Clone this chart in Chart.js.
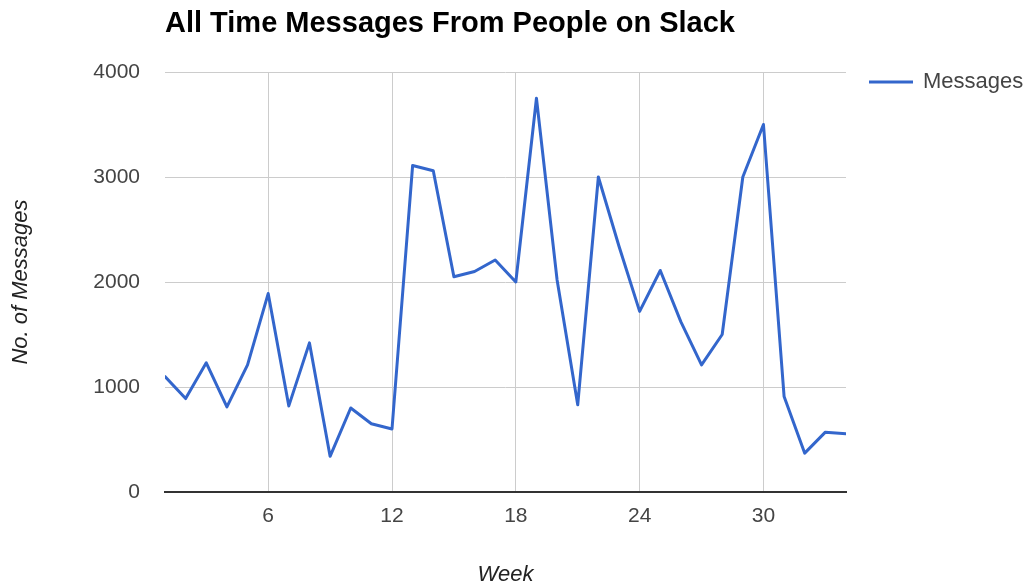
<!DOCTYPE html>
<html>
<head>
<meta charset="utf-8">
<script src="https://cdn.jsdelivr.net/npm/chart.js@4/dist/chart.umd.min.js"></script>
<style>
  html, body { margin: 0; padding: 0; background: #ffffff; }
  #wrap { width: 1035px; height: 587px; position: relative; }
</style>
</head>
<body>
<div id="wrap"><canvas id="c" width="1035" height="587"></canvas></div>
<script>
const chartTitle = 'All Time Messages From People on Slack';
const seriesName = 'Messages';
const xAxisTitle = 'Week';
const yAxisTitle = 'No. of Messages';
const weeks = [1,2,3,4,5,6,7,8,9,10,11,12,13,14,15,16,17,18,19,20,21,22,23,24,25,26,27,28,29,30,31,32,33,34];
const messages = [1100, 890, 1230, 810, 1210, 1890, 820, 1420, 340, 800, 650, 600, 3110, 3060, 2050, 2100, 2210, 2000, 3750, 2020, 830, 3000, 2340, 1720, 2110, 1620, 1210, 1500, 3000, 3500, 910, 370, 570, 555];
const xTickValues = [6, 12, 18, 24, 30];
const yTickValues = [0, 1000, 2000, 3000, 4000];

const FONT = "'Liberation Sans', Arial, sans-serif";
const LINE_COLOR = '#3366cc';

const titleLegendPlugin = {
  id: 'titleLegend',
  afterDraw(chart) {
    const ctx = chart.ctx;
    const area = chart.chartArea;
    ctx.save();
    // Title
    ctx.font = 'bold 29px ' + FONT;
    ctx.fillStyle = '#000000';
    ctx.textAlign = 'left';
    ctx.textBaseline = 'alphabetic';
    ctx.fillText(chartTitle, area.left, 32);
    // Legend
    const ds = chart.data.datasets[0];
    const ly = area.top + 10;
    const lx = area.right + 23;
    ctx.strokeStyle = ds.borderColor;
    ctx.lineWidth = 3;
    ctx.beginPath();
    ctx.moveTo(lx, ly);
    ctx.lineTo(lx + 44, ly);
    ctx.stroke();
    ctx.font = '22px ' + FONT;
    ctx.fillStyle = '#444444';
    ctx.textBaseline = 'middle';
    ctx.fillText(ds.label, lx + 54, ly);
    ctx.restore();
  }
};

new Chart(document.getElementById('c'), {
  type: 'line',
  data: {
    datasets: [{
      label: seriesName,
      data: weeks.map((w, i) => ({ x: w, y: messages[i] })),
      borderColor: LINE_COLOR,
      backgroundColor: LINE_COLOR,
      borderWidth: 3,
      borderJoinStyle: 'round',
      borderCapStyle: 'round',
      pointRadius: 0,
      tension: 0,
      fill: false
    }]
  },
  options: {
    responsive: false,
    animation: false,
    layout: { padding: { left: 0, top: 72, right: 189, bottom: 0 } },
    plugins: {
      legend: { display: false },
      title: { display: false },
      tooltip: { enabled: false }
    },
    scales: {
      x: {
        type: 'linear',
        min: weeks[0],
        max: weeks[weeks.length - 1],
        afterBuildTicks: (scale) => { scale.ticks = xTickValues.map(v => ({ value: v })); },
        afterFit: (scale) => { scale.height = 95; },
        grid: { color: '#cccccc', lineWidth: 1, drawTicks: false },
        border: { display: true, color: '#333333', width: 2 },
        ticks: {
          padding: 12,
          color: '#444444',
          font: { family: FONT, size: 21 },
          maxRotation: 0,
          autoSkip: false,
          callback: (v) => String(v)
        },
        title: {
          display: true,
          text: xAxisTitle,
          color: '#222222',
          font: { family: FONT, size: 22, style: 'italic', lineHeight: 1 },
          padding: { top: 0, bottom: 1 }
        }
      },
      y: {
        type: 'linear',
        min: 0,
        max: 4000,
        afterBuildTicks: (scale) => { scale.ticks = yTickValues.map(v => ({ value: v })); },
        afterFit: (scale) => { scale.width = 165; },
        grid: { color: '#cccccc', lineWidth: 1, drawTicks: false },
        border: { display: false },
        ticks: {
          padding: 25,
          color: '#444444',
          font: { family: FONT, size: 21 },
          callback: (v) => String(v)
        },
        title: {
          display: true,
          text: yAxisTitle,
          color: '#222222',
          font: { family: FONT, size: 22, style: 'italic', lineHeight: 1 },
          padding: { top: 10, bottom: 0 }
        }
      }
    }
  },
  plugins: [titleLegendPlugin]
});
</script>
</body>
</html>
